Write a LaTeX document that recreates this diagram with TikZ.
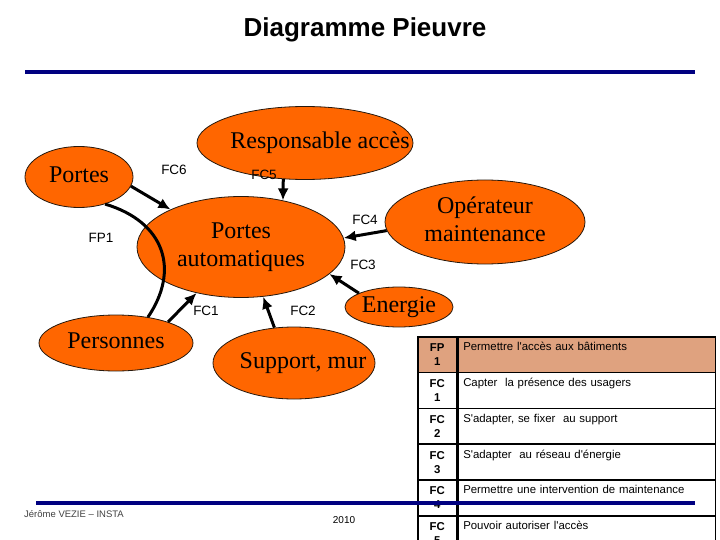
\documentclass[tikz,border=0pt]{standalone}
\usepackage{fontspec}
\setmainfont{Liberation Serif}
\setsansfont{Liberation Sans}
\usetikzlibrary{arrows.meta,shapes.geometric}
\definecolor{blobfill}{HTML}{FF6600}
\definecolor{rulenavy}{HTML}{000080}
\definecolor{tanrow}{HTML}{DFA27F}
\newcommand{\blobtxt}[1]{\makebox[0pt]{\begin{tabular}{@{}c@{}}#1\end{tabular}}}

\begin{document}
\begin{tikzpicture}[
    x=1pt, y=-1pt,
    blob/.style={ellipse, draw=black!80!brown, line width=0.8pt, fill=blobfill, inner sep=0pt, font=\fontsize{24}{28}\selectfont},
    lbl/.style={font=\sffamily\fontsize{13.5}{15}\selectfont, inner sep=0pt},
    arr/.style={-{Latex[length=12pt,width=11pt]}, line width=3pt},
    codecell/.style={draw, line width=1.5pt, anchor=north west, minimum width=39pt, minimum height=35.8pt, align=center, inner ysep=3pt, text height=26pt, text depth=3.8pt, font=\sffamily\bfseries\fontsize{11.4}{14}\selectfont},
    desccell/.style={draw, line width=1.5pt, anchor=north west, minimum height=35.8pt, align=left, text width=247pt, inner xsep=5pt, inner ysep=3pt, text height=11pt, text depth=18.8pt, font=\sffamily\fontsize{11.4}{14}\selectfont}
  ]
    \useasboundingbox (0,0) rectangle (720,540);

    \node[font=\sffamily\bfseries\fontsize{26}{30}\selectfont] (title) at (365,30) {Diagramme Pieuvre};
    \draw[rulenavy, line width=4pt] (25,72) -- (695,72);

    \node[blob, minimum width=216pt, minimum height=73pt] (resp) at (305,143) {\blobtxt{\hspace*{30pt}Responsable accès}};
    \node[blob, minimum width=108pt, minimum height=61pt] (portes) at (79,177) {\blobtxt{Portes}};
    \node[blob, minimum width=208pt, minimum height=101pt] (pa) at (241,247) {\blobtxt{Portes\\automatiques}};
    \node[blob, minimum width=200pt, minimum height=84pt] (oper) at (485,222) {\blobtxt{Opérateur\\maintenance}};
    \node[blob, minimum width=108pt, minimum height=40pt] (energie) at (399,307) {\blobtxt{Energie}};
    \node[blob, minimum width=154pt, minimum height=56pt] (pers) at (116,343) {\blobtxt{Personnes}};
    \node[blob, minimum width=162pt, minimum height=72pt] (support) at (294,363) {\blobtxt{\hspace*{18pt}Support, mur}};

    \node[lbl] (fc6) at (174,170) {FC6};
    \node[lbl] (fc5) at (264,175) {FC5};
    \node[lbl] (fc4) at (365,220) {FC4};
    \node[lbl] (fc3) at (363,265) {FC3};
    \node[lbl] (fc2) at (303,311) {FC2};
    \node[lbl] (fc1) at (206,311) {FC1};
    \node[lbl] (fp1) at (101,238) {FP1};

    \draw[arr] (portes.-10) -- (pa.152);
    \draw[arr] (resp.239) -- (pa.48);
    \draw[arr] (oper.185) -- (pa.5);
    \draw[arr] (energie.161) -- (pa.-17);
    \draw[arr] (support.119) -- (pa.-66);
    \draw[arr] (pers.22) -- (pa.226);
    \draw[line width=3pt] (portes.-46) .. controls (165,222) and (180,270) .. (pers.39);

    \foreach \code/\num/\txt [count=\i from 0] in {
        FP/1/{Permettre l\textquotesingle accès aux bâtiments},
        FC/1/{Capter\ \ la présence des usagers},
        FC/2/{S\textquotesingle adapter, se fixer\ \ au support},
        FC/3/{S\textquotesingle adapter\ \ au réseau d\textquotesingle énergie},
        FC/4/{Permettre une intervention de maintenance},
        FC/5/{Pouvoir autoriser l\textquotesingle accès}}
    {
      \pgfmathsetmacro{\rowy}{336+35.8*\i}
      \ifnum\i=0 \def\rowfill{tanrow}\else\def\rowfill{white}\fi
      \node[codecell, fill=\rowfill] (code\i) at (417,\rowy) {\code\\\num};
      \node[desccell, fill=\rowfill] (desc\i) at (code\i.north east) {\txt};
    }

    \draw[rulenavy, line width=3.5pt] (36,503) -- (695,503);
    \node[font=\sffamily\fontsize{9.5}{11}\selectfont, text=black!75, anchor=west, inner sep=0pt] (author) at (24,514) {Jérôme VEZIE – INSTA};
    \node[font=\sffamily\fontsize{10}{12}\selectfont, inner sep=0pt] (year) at (344,520) {2010};
  \end{tikzpicture}
\end{document}
